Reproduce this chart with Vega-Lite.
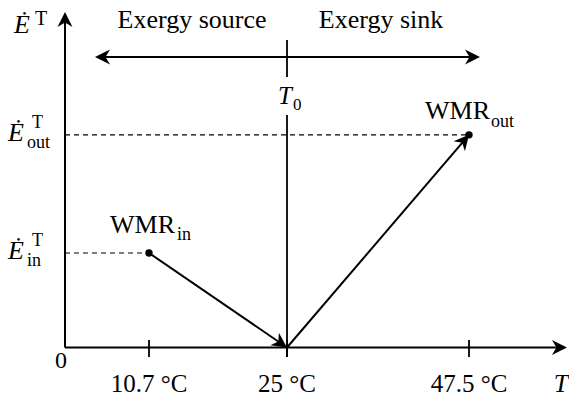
{
  "$schema": "https://vega.github.io/schema/vega-lite/v6.json",
  "width": 569,
  "height": 405,
  "autosize": {"type": "none"},
  "padding": 0,
  "background": "white",
  "config": {
    "view": {"stroke": null},
    "axis": {"disable": true},
    "text": {"font": "Liberation Serif", "fontSize": 25, "color": "black", "baseline": "alphabetic"},
    "rule": {"color": "black"}
  },
  "datasets": {
    "states": [{"state": "in", "T": 10.7, "E": 1}, {"state": "out", "T": 47.5, "E": 2.25}],
    "arrows": [{"name": "in", "T": 10.7, "E": 1, "T2": 25, "E2": 0}, {"name": "out", "T": 25, "E": 0, "T2": 47.5, "E2": 2.25}],
    "levels": [{"name": "in", "T": 0, "E": 1, "T2": 10.7, "E2": 1}, {"name": "out", "T": 0, "E": 2.25, "T2": 47.5, "E2": 2.25}],
    "ticks": [{"T": 10.7, "label": "10.7 °C"}, {"T": 25, "label": "25 °C"}, {"T": 47.5, "label": "47.5 °C"}],
    "one": [{}]
  },
  "layer": [
    {
      "data": {"name": "levels"},
      "mark": {"type": "rule", "strokeDash": [5, 4], "strokeWidth": 1.2},
      "encoding": {
        "x": {"field": "T", "type": "quantitative", "scale": {"domain": [0, 10.7, 25, 47.5], "range": [65, 149, 287, 469], "nice": false, "zero": false}, "axis": null},
        "y": {"field": "E", "type": "quantitative", "scale": {"domain": [-0.6085, 3.677], "nice": false, "zero": false}, "axis": null},
        "x2": {"field": "T2"},
        "y2": {"field": "E2"}
      }
    },
    {
      "data": {"name": "one"},
      "mark": {"type": "rule", "strokeWidth": 2},
      "encoding": {"x": {"datum": 0}, "y": {"datum": 0}, "y2": {"datum": 3.455}}
    },
    {
      "data": {"name": "one"},
      "mark": {"type": "rule", "strokeWidth": 2},
      "encoding": {"y": {"datum": 0}, "x": {"datum": 0}, "x2": {"datum": 58.63}}
    },
    {
      "data": {"name": "one"},
      "mark": {"type": "rule", "strokeWidth": 2},
      "encoding": {"y": {"datum": 3.074}, "x": {"datum": 4.71}, "x2": {"datum": 47.99}}
    },
    {
      "data": {"name": "one"},
      "mark": {"type": "rule", "strokeWidth": 1.8},
      "encoding": {"x": {"datum": 25}, "y": {"datum": 3.254}, "y2": {"datum": 2.862}}
    },
    {
      "data": {"name": "one"},
      "mark": {"type": "rule", "strokeWidth": 1.8},
      "encoding": {"x": {"datum": 25}, "y": {"datum": 2.46}, "y2": {"datum": -0.1}}
    },
    {
      "data": {"name": "ticks"},
      "mark": {"type": "rule", "strokeWidth": 1.8},
      "encoding": {"x": {"field": "T", "type": "quantitative"}, "y": {"datum": 0.079}, "y2": {"datum": -0.1}}
    },
    {
      "data": {"name": "arrows"},
      "mark": {"type": "rule", "strokeWidth": 2},
      "encoding": {"x": {"field": "T", "type": "quantitative"}, "y": {"field": "E", "type": "quantitative"}, "x2": {"field": "T2"}, "y2": {"field": "E2"}}
    },
    {
      "data": {"name": "one"},
      "mark": {"type": "point", "shape": "M0,0 L-1,-0.5 L-0.7,0 L-1,0.5 Z", "size": 900, "filled": true, "opacity": 1, "color": "black", "angle": -90},
      "encoding": {"x": {"datum": 0}, "y": {"datum": 3.55}}
    },
    {
      "data": {"name": "one"},
      "mark": {"type": "point", "shape": "M0,0 L-1,-0.5 L-0.7,0 L-1,0.5 Z", "size": 900, "filled": true, "opacity": 1, "color": "black", "angle": 0},
      "encoding": {"x": {"datum": 59.61}, "y": {"datum": 0}}
    },
    {
      "data": {"name": "one"},
      "mark": {"type": "point", "shape": "M0,0 L-1,-0.5 L-0.7,0 L-1,0.5 Z", "size": 900, "filled": true, "opacity": 1, "color": "black", "angle": 180},
      "encoding": {"x": {"datum": 3.82}, "y": {"datum": 3.074}}
    },
    {
      "data": {"name": "one"},
      "mark": {"type": "point", "shape": "M0,0 L-1,-0.5 L-0.7,0 L-1,0.5 Z", "size": 900, "filled": true, "opacity": 1, "color": "black", "angle": 0},
      "encoding": {"x": {"datum": 48.86}, "y": {"datum": 3.074}}
    },
    {
      "data": {"name": "arrows"},
      "transform": [{"filter": "datum.name === 'in'"}],
      "mark": {"type": "point", "shape": "M0,0 L-1,-0.5 L-0.7,0 L-1,0.5 Z", "size": 900, "filled": true, "opacity": 1, "color": "black", "angle": 34.4},
      "encoding": {"x": {"field": "T2", "type": "quantitative"}, "y": {"field": "E2", "type": "quantitative"}}
    },
    {
      "data": {"name": "arrows"},
      "transform": [{"filter": "datum.name === 'out'"}],
      "mark": {"type": "point", "shape": "M0,0 L-1,-0.5 L-0.7,0 L-1,0.5 Z", "size": 900, "filled": true, "opacity": 1, "color": "black", "angle": -49.4},
      "encoding": {"x": {"field": "T2", "type": "quantitative"}, "y": {"field": "E2", "type": "quantitative"}}
    },
    {
      "data": {"name": "states"},
      "mark": {"type": "circle", "size": 55, "opacity": 1, "color": "black"},
      "encoding": {"x": {"field": "T", "type": "quantitative"}, "y": {"field": "E", "type": "quantitative"}}
    },
    {
      "data": {"name": "states"},
      "transform": [{"filter": "datum.state === 'in'"}],
      "mark": {"type": "text", "text": "WMR", "fontSize": 26, "align": "right", "dx": 26, "dy": -20},
      "encoding": {"x": {"field": "T", "type": "quantitative"}, "y": {"field": "E", "type": "quantitative"}}
    },
    {
      "data": {"name": "states"},
      "transform": [{"filter": "datum.state === 'in'"}],
      "mark": {"type": "text", "fontSize": 18, "align": "left", "dx": 28, "dy": -13},
      "encoding": {"x": {"field": "T", "type": "quantitative"}, "y": {"field": "E", "type": "quantitative"}, "text": {"field": "state"}}
    },
    {
      "data": {"name": "states"},
      "transform": [{"filter": "datum.state === 'out'"}],
      "mark": {"type": "text", "text": "WMR", "fontSize": 26, "align": "right", "dx": 21, "dy": -16},
      "encoding": {"x": {"field": "T", "type": "quantitative"}, "y": {"field": "E", "type": "quantitative"}}
    },
    {
      "data": {"name": "states"},
      "transform": [{"filter": "datum.state === 'out'"}],
      "mark": {"type": "text", "fontSize": 18, "align": "left", "dx": 22, "dy": -8},
      "encoding": {"x": {"field": "T", "type": "quantitative"}, "y": {"field": "E", "type": "quantitative"}, "text": {"field": "state"}}
    },
    {
      "data": {"name": "ticks"},
      "mark": {"type": "text", "align": "center", "dy": 45},
      "encoding": {"x": {"field": "T", "type": "quantitative"}, "y": {"datum": 0}, "text": {"field": "label"}}
    },
    {
      "data": {"name": "one"},
      "mark": {"type": "text", "text": "0", "align": "center", "fontSize": 24, "dx": -4, "dy": 21},
      "encoding": {"x": {"datum": 0}, "y": {"datum": 0}}
    },
    {
      "data": {"name": "one"},
      "mark": {"type": "text", "text": "T", "fontStyle": "italic", "fontSize": 26, "align": "center", "dy": 45},
      "encoding": {"x": {"datum": 58.87}, "y": {"datum": 0}}
    },
    {
      "data": {"name": "one"},
      "mark": {"type": "text", "text": "T", "fontStyle": "italic", "align": "center", "dx": -2},
      "encoding": {"x": {"datum": 25}, "y": {"datum": 2.577}}
    },
    {
      "data": {"name": "one"},
      "mark": {"type": "text", "text": "0", "fontSize": 17, "align": "left", "dx": 6, "dy": 6},
      "encoding": {"x": {"datum": 25}, "y": {"datum": 2.577}}
    },
    {
      "data": {"name": "one"},
      "mark": {"type": "text", "text": "Exergy source", "fontSize": 26, "align": "center"},
      "encoding": {"x": {"datum": 15.16}, "y": {"datum": 3.381}}
    },
    {
      "data": {"name": "one"},
      "mark": {"type": "text", "text": "Exergy sink", "fontSize": 26, "align": "center"},
      "encoding": {"x": {"datum": 36.62}, "y": {"datum": 3.381}}
    },
    {
      "data": {"name": "one"},
      "mark": {"type": "text", "text": "Ė", "fontStyle": "italic", "fontSize": 26, "align": "left", "dx": -51, "dy": 21},
      "encoding": {"x": {"datum": 0}, "y": {"datum": 3.55}}
    },
    {
      "data": {"name": "one"},
      "mark": {"type": "text", "text": "T", "fontSize": 20, "align": "left", "dx": -30, "dy": 13},
      "encoding": {"x": {"datum": 0}, "y": {"datum": 3.55}}
    },
    {
      "data": {"name": "levels"},
      "mark": {"type": "text", "text": "Ė", "fontStyle": "italic", "fontSize": 26, "align": "left", "dx": -57, "dy": 6},
      "encoding": {"x": {"field": "T", "type": "quantitative"}, "y": {"field": "E", "type": "quantitative"}}
    },
    {
      "data": {"name": "levels"},
      "mark": {"type": "text", "text": "T", "fontSize": 18, "align": "left", "dx": -33, "dy": -7},
      "encoding": {"x": {"field": "T", "type": "quantitative"}, "y": {"field": "E", "type": "quantitative"}}
    },
    {
      "data": {"name": "levels"},
      "mark": {"type": "text", "fontSize": 18, "align": "left", "dx": -38, "dy": 13},
      "encoding": {"x": {"field": "T", "type": "quantitative"}, "y": {"field": "E", "type": "quantitative"}, "text": {"field": "name"}}
    }
  ]
}
